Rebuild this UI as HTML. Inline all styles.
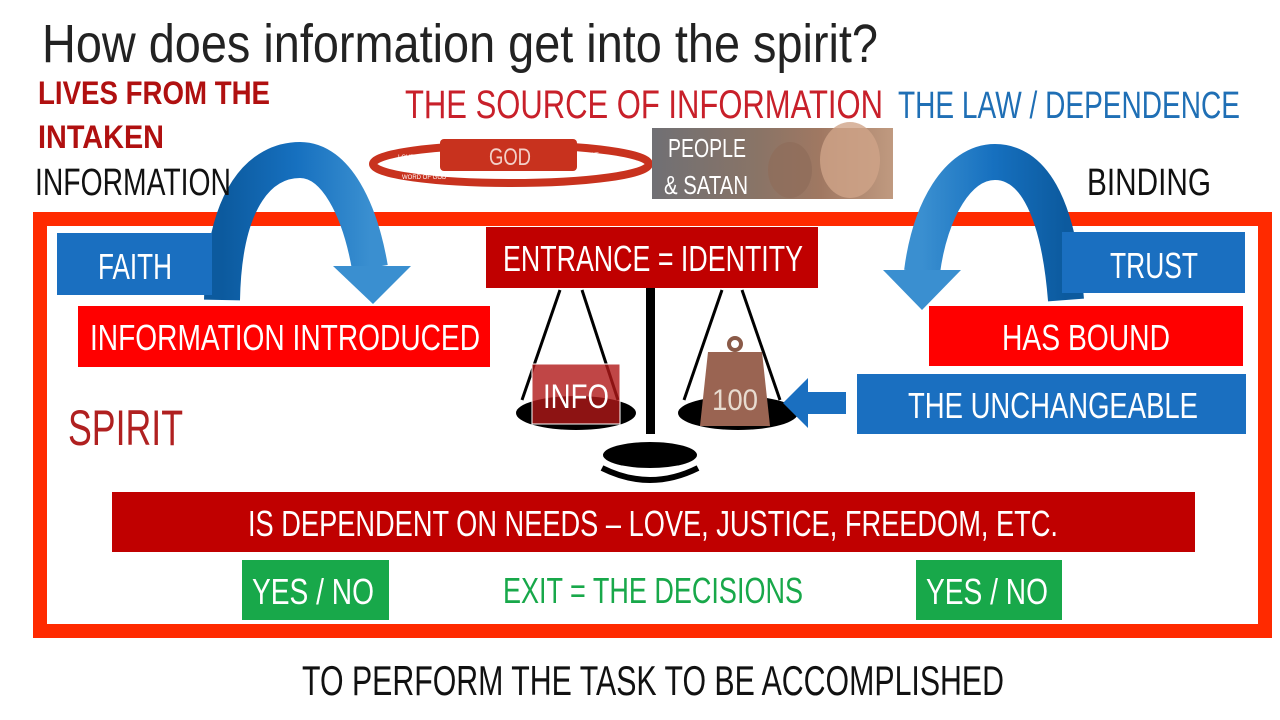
<!DOCTYPE html>
<html><head><meta charset="utf-8"><style>
html,body{margin:0;padding:0;background:#fff;width:1280px;height:720px;overflow:hidden}
svg text{font-family:"Liberation Sans",sans-serif}
</style></head><body>
<svg width="1280" height="720" viewBox="0 0 1280 720" xmlns="http://www.w3.org/2000/svg">
<defs>
<linearGradient id="bl" x1="0" x2="1"><stop offset="0" stop-color="#0c5a9e"/><stop offset="0.5" stop-color="#1670bf"/><stop offset="1" stop-color="#3a8fd0"/></linearGradient>
<linearGradient id="br" x1="1" x2="0"><stop offset="0" stop-color="#0c5a9e"/><stop offset="0.5" stop-color="#1670bf"/><stop offset="1" stop-color="#3a8fd0"/></linearGradient>
<linearGradient id="ph" x1="0" x2="1"><stop offset="0" stop-color="#707074"/><stop offset="0.45" stop-color="#8a7466"/><stop offset="0.7" stop-color="#a07862"/><stop offset="1" stop-color="#c09a80"/></linearGradient>
</defs>
<text x="42" y="62" font-size="54" fill="#222" textLength="836" lengthAdjust="spacingAndGlyphs">How does information get into the spirit?</text>
<text x="38" y="104" font-size="32" font-weight="bold" fill="#b01010" textLength="232" lengthAdjust="spacingAndGlyphs">LIVES FROM THE</text>
<text x="38" y="148" font-size="32" font-weight="bold" fill="#b01010" textLength="126" lengthAdjust="spacingAndGlyphs">INTAKEN</text>
<text x="405" y="118" font-size="40" fill="#c8202a" textLength="478" lengthAdjust="spacingAndGlyphs">THE SOURCE OF INFORMATION</text>
<text x="898" y="118" font-size="38" fill="#1f6fb5" textLength="342" lengthAdjust="spacingAndGlyphs">THE LAW / DEPENDENCE</text>
<text x="1087" y="195" font-size="38" fill="#111" textLength="124" lengthAdjust="spacingAndGlyphs">BINDING</text>
<!-- God ring -->
<ellipse cx="511" cy="164" rx="138" ry="19" fill="none" stroke="#c8321e" stroke-width="8"/>
<rect x="440" y="139" width="137" height="32" rx="4" fill="#c8321e"/>
<text x="489" y="165" font-size="24" fill="#f3d0c8" textLength="42" lengthAdjust="spacingAndGlyphs">GOD</text>
<text x="398" y="159" font-size="6" fill="#fff">LOVE</text>
<text x="402" y="179" font-size="6" fill="#fff">WORD OF GOD</text>
<text x="581" y="157" font-size="6" fill="#fff">FRUIT</text>
<!-- people -->
<rect x="652" y="128" width="241" height="71" fill="url(#ph)"/>
<ellipse cx="850" cy="160" rx="30" ry="38" fill="#d0a488" opacity="0.8"/>
<ellipse cx="790" cy="170" rx="22" ry="28" fill="#8e6c5a" opacity="0.7"/>
<text x="668" y="157" font-size="26" fill="#fff" textLength="78" lengthAdjust="spacingAndGlyphs">PEOPLE</text>
<text x="664" y="194" font-size="26" fill="#fff" textLength="84" lengthAdjust="spacingAndGlyphs">&amp; SATAN</text>
<!-- frame -->
<rect x="40" y="219" width="1225" height="412" fill="none" stroke="#ff2a00" stroke-width="14"/>
<!-- left arrow -->
<path d="M222 300 C224 195 262 160 300 160 C336 160 360 210 370 268" fill="none" stroke="url(#bl)" stroke-width="36"/>
<polygon points="333,266 411,266 373,304" fill="#3a8fd0"/>
<text x="35" y="195" font-size="38" fill="#111" textLength="196" lengthAdjust="spacingAndGlyphs">INFORMATION</text>
<!-- right arrow -->
<path d="M1066 300 C1058 200 1030 162 995 162 C958 162 930 210 922 272" fill="none" stroke="url(#br)" stroke-width="36"/>
<polygon points="883,270 961,270 922,310" fill="#3a8fd0"/>
<!-- boxes -->
<rect x="57" y="233" width="155" height="62" fill="#1a6fc0"/>
<text x="98" y="279" font-size="36" fill="#fff" textLength="74" lengthAdjust="spacingAndGlyphs">FAITH</text>
<rect x="1062" y="232" width="183" height="61" fill="#1a6fc0"/>
<text x="1110" y="278" font-size="36" fill="#fff" textLength="88" lengthAdjust="spacingAndGlyphs">TRUST</text>
<rect x="78" y="306" width="412" height="61" fill="#ff0000"/>
<text x="90" y="350" font-size="36" fill="#fff" textLength="390" lengthAdjust="spacingAndGlyphs">INFORMATION INTRODUCED</text>
<rect x="929" y="306" width="314" height="60" fill="#ff0000"/>
<text x="1002" y="350" font-size="36" fill="#fff" textLength="168" lengthAdjust="spacingAndGlyphs">HAS BOUND</text>
<rect x="857" y="374" width="389" height="60" fill="#1a6fc0"/>
<text x="908" y="418" font-size="36" fill="#fff" textLength="290" lengthAdjust="spacingAndGlyphs">THE UNCHANGEABLE</text>
<!-- scale -->
<rect x="646" y="288" width="9" height="146" fill="#000"/>
<line x1="560" y1="290" x2="522" y2="400" stroke="#000" stroke-width="3"/>
<line x1="582" y1="290" x2="618" y2="400" stroke="#000" stroke-width="3"/>
<line x1="722" y1="290" x2="684" y2="400" stroke="#000" stroke-width="3"/>
<line x1="742" y1="290" x2="780" y2="400" stroke="#000" stroke-width="3"/>
<ellipse cx="576" cy="413" rx="60" ry="17" fill="#000"/>
<ellipse cx="738" cy="413" rx="60" ry="17" fill="#000"/>
<ellipse cx="650" cy="455" rx="47" ry="13" fill="#000"/>
<path d="M602 468 Q650 492 698 468" fill="none" stroke="#000" stroke-width="6"/>
<rect x="532" y="364" width="88" height="60" fill="#b01818" fill-opacity="0.8" stroke="#fff" stroke-width="1"/>
<text x="543" y="408" font-size="34" fill="#fff" textLength="66" lengthAdjust="spacingAndGlyphs">INFO</text>
<circle cx="735" cy="344" r="6" fill="none" stroke="#8a5a48" stroke-width="4"/>
<polygon points="708,352 762,352 770,426 700,426" fill="#9a6452"/>
<text x="712" y="410" font-size="30" fill="#e8dcd0" textLength="46" lengthAdjust="spacingAndGlyphs">100</text>
<polygon points="783,403 808,378 808,392 846,392 846,414 808,414 808,428" fill="#1a6fc0"/>
<rect x="486" y="227" width="332" height="61" fill="#c00000"/>
<text x="503" y="271" font-size="36" fill="#fff" textLength="300" lengthAdjust="spacingAndGlyphs">ENTRANCE = IDENTITY</text>
<text x="68" y="445" font-size="50" fill="#b02020" textLength="115" lengthAdjust="spacingAndGlyphs">SPIRIT</text>
<rect x="112" y="492" width="1083" height="60" fill="#c00000"/>
<text x="248" y="536" font-size="36" fill="#fff" textLength="810" lengthAdjust="spacingAndGlyphs">IS DEPENDENT ON NEEDS – LOVE, JUSTICE, FREEDOM, ETC.</text>
<rect x="242" y="560" width="147" height="60" fill="#18a84a"/>
<text x="252" y="604" font-size="36" fill="#fff" textLength="122" lengthAdjust="spacingAndGlyphs">YES / NO</text>
<rect x="916" y="560" width="146" height="60" fill="#18a84a"/>
<text x="926" y="604" font-size="36" fill="#fff" textLength="122" lengthAdjust="spacingAndGlyphs">YES / NO</text>
<text x="503" y="603" font-size="36" fill="#18a84a" textLength="300" lengthAdjust="spacingAndGlyphs">EXIT = THE DECISIONS</text>
<text x="302" y="695" font-size="42" fill="#111" textLength="702" lengthAdjust="spacingAndGlyphs">TO PERFORM THE TASK TO BE ACCOMPLISHED</text>
</svg>
</body></html>
